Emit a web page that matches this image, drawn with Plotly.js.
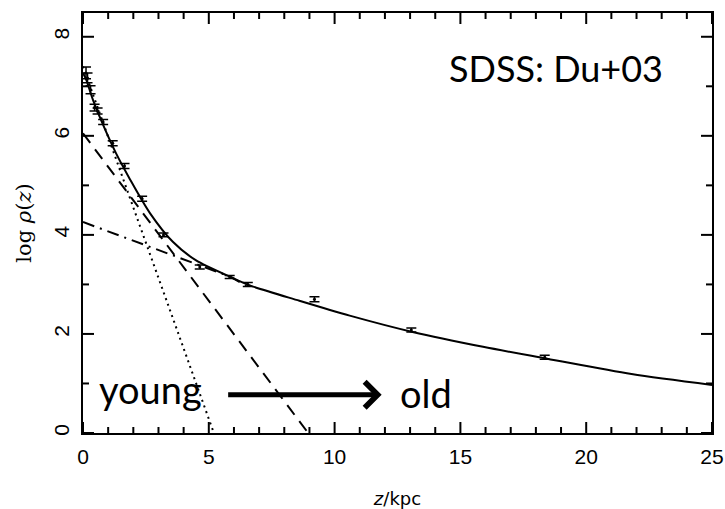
<!DOCTYPE html>
<html>
<head>
<meta charset="utf-8">
<script src="https://cdn.plot.ly/plotly-3.0.1.min.js"></script>
<style>html,body{margin:0;padding:0;background:#fff;}#chart{width:725px;height:509px;}</style>
</head>
<body>
<div id="chart"></div>
<script>
// Observed star counts (with error bars)
const dataZ   = [0.12, 0.18, 0.30, 0.46, 0.58, 0.80, 1.18, 1.65, 2.35, 3.20, 4.64, 5.83, 6.55, 9.20, 13.05, 18.35];
const dataLog = [7.27, 7.17, 6.93, 6.57, 6.50, 6.28, 5.85, 5.39, 4.73, 4.00, 3.35, 3.15, 3.00, 2.70, 2.08, 1.53];
const dataErr = [0.12, 0.10, 0.08, 0.07, 0.06, 0.05, 0.05, 0.05, 0.05, 0.04, 0.04, 0.03, 0.04, 0.05, 0.04, 0.04];

// Total fit (solid)
const totalZ   = [0, 0.13, 0.4, 0.8, 1.3, 1.87, 2.66, 3.57, 4.48, 5.95, 6.63, 8.6, 10.6, 13.1, 15.9, 18.45, 21.8, 25];
const totalLog = [7.27, 7.13, 6.72, 6.22, 5.66, 5.12, 4.44, 3.86, 3.49, 3.13, 2.98, 2.67, 2.37, 2.04, 1.74, 1.50, 1.19, 0.97];

// Thin disk (dotted)
const thinZ   = [0, 5.2];
const thinLog = [7.4, 0];

// Thick disk (dashed)
const thickZ   = [0, 8.95];
const thickLog = [6.05, 0];

// Halo (dash-dot)
const haloZ   = [0, 1.59, 3.17, 3.85, 5.0, 5.83, 6.5];
const haloLog = [4.26, 3.96, 3.66, 3.53, 3.32, 3.16, 2.97];

// Axis ticks
const xMajorTicks = [0, 5, 10, 15, 20, 25];
const xMinorTicks = [1, 2, 3, 4, 6, 7, 8, 9, 11, 12, 13, 14, 16, 17, 18, 19, 21, 22, 23, 24];
const yMajorTicks = [0, 2, 4, 6, 8];
const yMinorTicks = [1, 3, 5, 7];

const xRange = [0, 25];
const yRange = [0, 8.48];

const W = 725, H = 509;
const M = {l: 83, r: 13, t: 13, b: 76};
const xPerPx = (xRange[1] - xRange[0]) / (W - M.l - M.r);
const yPerPx = (yRange[1] - yRange[0]) / (H - M.t - M.b);

const traces = [
  {x: thinZ, y: thinLog, mode: 'lines', line: {color: '#000', width: 2, dash: '2px,4px'}, hoverinfo: 'skip'},
  {x: thickZ, y: thickLog, mode: 'lines', line: {color: '#000', width: 2, dash: '12px,8px'}, hoverinfo: 'skip'},
  {x: haloZ, y: haloLog, mode: 'lines', line: {color: '#000', width: 2, dash: '12px,6px,2px,6px'}, hoverinfo: 'skip'},
  {x: totalZ, y: totalLog, mode: 'lines', line: {color: '#000', width: 2, shape: 'spline', smoothing: 0.8}, hoverinfo: 'skip'},
  {x: dataZ, y: dataLog, mode: 'markers', marker: {color: '#000', size: 3},
   error_y: {type: 'data', array: dataErr, visible: true, color: '#000', thickness: 1.5, width: 5}}
];

// Tick marks drawn inside the frame on all four sides
const shapes = [];
function xTick(v, lenPx, w) {
  const d = lenPx * yPerPx;
  shapes.push({type: 'line', layer: 'above', xref: 'x', yref: 'y', x0: v, x1: v, y0: yRange[0], y1: yRange[0] + d, line: {color: '#000', width: w}});
  shapes.push({type: 'line', layer: 'above', xref: 'x', yref: 'y', x0: v, x1: v, y0: yRange[1], y1: yRange[1] - d, line: {color: '#000', width: w}});
}
function yTick(v, lenPx, w) {
  const d = lenPx * xPerPx;
  shapes.push({type: 'line', layer: 'above', xref: 'x', yref: 'y', y0: v, y1: v, x0: xRange[0], x1: xRange[0] + d, line: {color: '#000', width: w}});
  shapes.push({type: 'line', layer: 'above', xref: 'x', yref: 'y', y0: v, y1: v, x0: xRange[1], x1: xRange[1] - d, line: {color: '#000', width: w}});
}
xMajorTicks.forEach(v => xTick(v, 11, 2));
xMinorTicks.forEach(v => xTick(v, 6, 2));
yMajorTicks.forEach(v => yTick(v, 11, 2));
yMinorTicks.forEach(v => yTick(v, 6, 2));

const tickFont = {family: 'Liberation Sans, Arial, sans-serif', size: 21, color: '#000'};

const layout = {
  width: W, height: H,
  margin: M,
  paper_bgcolor: '#fff', plot_bgcolor: '#fff',
  showlegend: false,
  xaxis: {
    range: xRange, tickmode: 'array', tickvals: xMajorTicks, ticktext: xMajorTicks.map(String), ticks: '',
    showgrid: false, zeroline: false, showline: true, linecolor: '#000', linewidth: 2, mirror: true,
    tickfont: tickFont, ticklabelstandoff: 4,
    title: {text: '<i>z</i>/kpc', font: {family: 'DejaVu Sans, sans-serif', size: 18, color: '#000'}, standoff: 26}
  },
  yaxis: {
    range: yRange, tickmode: 'array', tickvals: yMajorTicks, ticktext: yMajorTicks.map(String), ticks: '', tickangle: -90,
    showgrid: false, zeroline: false, showline: true, linecolor: '#000', linewidth: 2, mirror: true,
    tickfont: tickFont, ticklabelstandoff: 4,
    title: {text: 'log <i>ρ</i>(<i>z</i>)', font: {family: 'DejaVu Serif, serif', size: 21, color: '#000'}, standoff: 12}
  },
  shapes: shapes,
  annotations: [
    {text: 'SDSS: Du+03', xref: 'paper', yref: 'paper', x: 0.579, y: 0.87, xanchor: 'left', yanchor: 'middle',
     showarrow: false, font: {family: 'Lato, sans-serif', size: 36, color: '#000'}},
    {text: 'young', xref: 'paper', yref: 'paper', x: 0.022, y: 0.105, xanchor: 'left', yanchor: 'middle',
     showarrow: false, font: {family: 'Lato, sans-serif', size: 38, color: '#000'}},
    {text: 'old', xref: 'paper', yref: 'paper', x: 0.5, y: 0.095, xanchor: 'left', yanchor: 'middle',
     showarrow: false, font: {family: 'Lato, sans-serif', size: 38, color: '#000'}},
    {text: '', x: 11.87, y: 0.77, xref: 'x', yref: 'y', ax: 5.71, ay: 0.77, axref: 'x', ayref: 'y',
     showarrow: true, arrowhead: 4, arrowsize: 1, arrowwidth: 5, arrowcolor: '#000', standoff: 0}
  ]
};

Plotly.newPlot('chart', traces, layout, {displayModeBar: false});
</script>
</body>
</html>
